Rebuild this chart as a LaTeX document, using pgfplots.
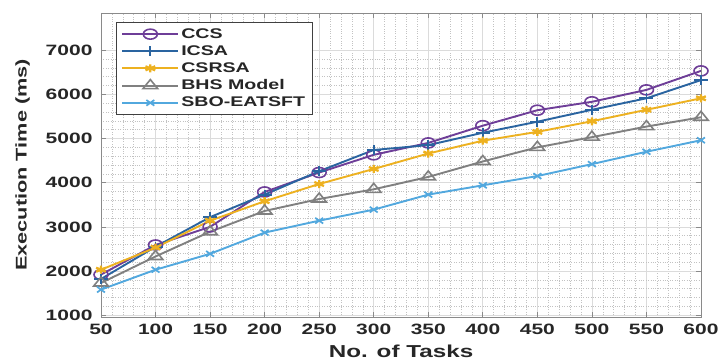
\documentclass[border=0pt]{standalone}
\usepackage{fontspec}
\setmainfont{Liberation Sans}[FakeStretch=1.4]
\usepackage{pgfplots}
\pgfplotsset{compat=1.18}
\definecolor{cCCS}{HTML}{6E3E98}
\definecolor{cICSA}{HTML}{2A64A0}
\definecolor{cCSRSA}{HTML}{EDB120}
\definecolor{cBHS}{HTML}{808080}
\definecolor{cSBO}{HTML}{52A8DE}
\definecolor{axgray}{HTML}{8A8A8A}
\definecolor{txt}{HTML}{262626}
\begin{document}
\begin{tikzpicture}
\begin{axis}[
  scale only axis,
  width=600pt, height=304pt,
  xmin=50, xmax=600, ymin=960, ymax=7840,
  xtick={50,100,...,600},
  ytick={1000,2000,...,7000},
  minor x tick num=4, minor y tick num=4,
  grid=both,
  major grid style={draw=black!14, line width=0.7pt},
  minor grid style={draw=black!24, dotted, line width=0.5pt},
  axis line style={draw=axgray, line width=0.8pt},
  tick style={draw=axgray, line width=0.7pt},
  major tick length=5pt, minor tick length=0pt,
  tick align=inside,
  xtick pos=both, ytick pos=both,
  /pgf/number format/1000 sep={},
  /pgf/number format/assume math mode=true,
  ticklabel style={font=\fontsize{15}{17}\selectfont\bfseries, text=txt},
  xticklabel style={yshift=-3pt},
  yticklabel style={xshift=-5pt},
  xlabel={No. of Tasks},
  ylabel={Execution Time (ms)},
  xlabel style={font=\fontsize{17.3}{19}\selectfont\bfseries, text=txt, yshift=-4pt},
  ylabel style={font=\fontsize{15.5}{17}\selectfont\bfseries, text=txt, yshift=9pt},
  every axis plot/.append style={line width=1.9pt},
  legend style={at={(axis description cs:0.025,0.97)}, anchor=north west,
    draw=black!75, line width=0.8pt, fill=white,
    font=\fontsize{14}{16}\selectfont\bfseries, text=txt,
    row sep=1.8pt, inner xsep=5pt, inner ysep=4pt},
  legend cell align=left,
  legend image code/.code={\draw[mark repeat=2,mark phase=2] plot coordinates {(0pt,0pt) (28pt,0pt) (56pt,0pt)};},
]
\addplot[color=cCCS, mark=o, mark size=5pt, mark options={xscale=1.4, line width=1.6pt, fill=none}] coordinates {
(50,1920) (100,2590) (150,3000) (200,3790) (250,4230) (300,4630) (350,4900) (400,5290) (450,5640) (500,5830) (550,6100) (600,6530)};
\addlegendentry{CCS}
\addplot[color=cICSA, mark=+, mark size=5pt, mark options={xscale=1.4, line width=1.8pt}] coordinates {
(50,1820) (100,2550) (150,3220) (200,3730) (250,4260) (300,4740) (350,4850) (400,5130) (450,5380) (500,5650) (550,5910) (600,6320)};
\addlegendentry{ICSA}
\addplot[color=cCSRSA, mark=asterisk, mark size=4pt, mark options={xscale=1.4, line width=2.3pt}] coordinates {
(50,2030) (100,2530) (150,3140) (200,3580) (250,3970) (300,4310) (350,4660) (400,4950) (450,5150) (500,5390) (550,5650) (600,5910)};
\addlegendentry{CSRSA}
\addplot[color=cBHS, mark=triangle, mark size=6pt, mark options={xscale=1.4, line width=1.6pt, fill=none}] coordinates {
(50,1730) (100,2330) (150,2890) (200,3360) (250,3630) (300,3850) (350,4130) (400,4480) (450,4800) (500,5030) (550,5270) (600,5480)};
\addlegendentry{BHS Model}
\addplot[color=cSBO, mark=x, mark size=4pt, mark options={xscale=1.4, line width=1.7pt}] coordinates {
(50,1580) (100,2030) (150,2390) (200,2870) (250,3140) (300,3390) (350,3730) (400,3940) (450,4150) (500,4420) (550,4700) (600,4960)};
\addlegendentry{SBO-EATSFT}
\end{axis}
\pgfresetboundingbox
\path[use as bounding box] (-101pt,-43pt) rectangle (620pt,317pt);
\end{tikzpicture}
\end{document}
